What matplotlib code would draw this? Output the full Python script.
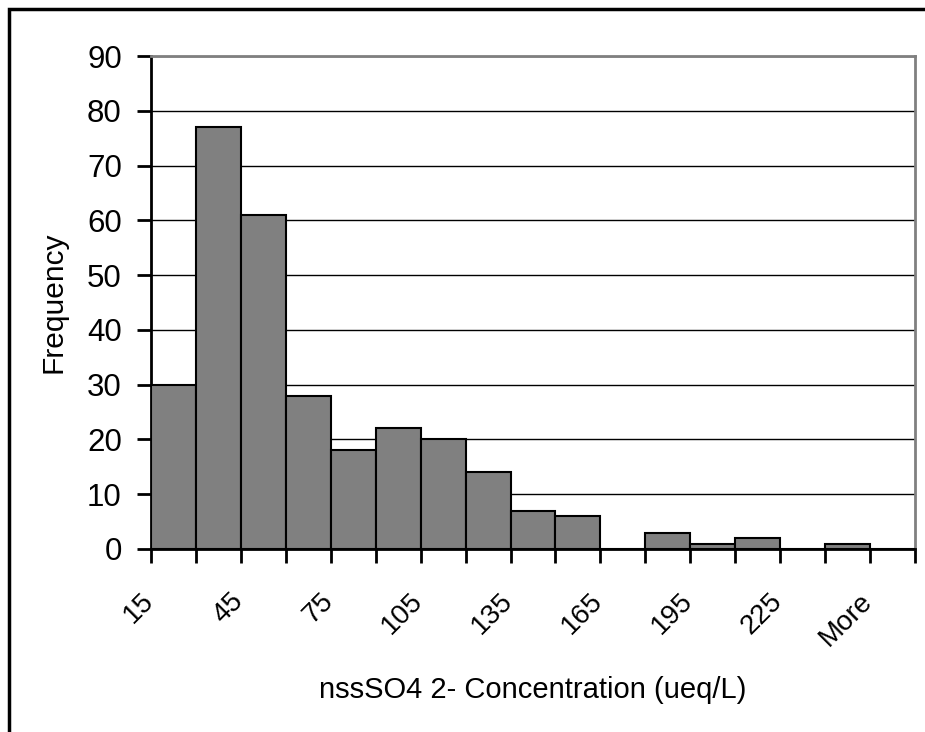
import matplotlib
matplotlib.use("Agg")
import matplotlib.pyplot as plt
import matplotlib.transforms as mtransforms
from matplotlib.patches import Rectangle

# Histogram bins (upper edge of each bin) and counts
bins = ['15', '30', '45', '60', '75', '90', '105', '120', '135', '150',
        '165', '180', '195', '210', '225', '240', 'More']
counts = [30, 77, 61, 28, 18, 22, 20, 14, 7, 6, 0, 3, 1, 2, 0, 1, 0]
y_ticks = [0, 10, 20, 30, 40, 50, 60, 70, 80, 90]

plt.rcParams['font.family'] = ['Liberation Sans', 'DejaVu Sans']

fig = plt.figure(figsize=(9.25, 7.32), dpi=100)
ax = fig.add_axes([151 / 925, 1 - 549 / 732, (915 - 151) / 925, (549 - 56) / 732])

x = list(range(len(bins)))
ax.bar(x, counts, width=1.0, color='#808080', edgecolor='black', linewidth=1.5, zorder=3)

ax.set_xlim(-0.5, len(bins) - 0.5)
ax.set_ylim(0, 90)
ax.set_yticks(y_ticks)
ax.yaxis.grid(True, color='black', linewidth=1.0, zorder=0)
ax.set_axisbelow(True)

# category labels on every other bin, tick marks at bin boundaries
ax.set_xticks(x[::2])
ax.set_xticklabels(bins[::2], rotation=45, ha='right', va='center',
                   rotation_mode='anchor', fontsize=20)
ax.set_xticks([i - 0.5 for i in range(len(bins) + 1)], minor=True)
ax.tick_params(axis='x', which='major', length=0, pad=35)
ax.tick_params(axis='x', which='minor', length=10, width=2, direction='out')
ax.tick_params(axis='y', length=10, width=2, labelsize=22.5, pad=11)
offset = mtransforms.ScaledTranslation(-0.24, 0, fig.dpi_scale_trans)
for lbl in ax.get_xticklabels():
    lbl.set_transform(lbl.get_transform() + offset)

for side in ('top', 'right'):
    ax.spines[side].set_color('#808080')
    ax.spines[side].set_linewidth(2)
for side in ('left', 'bottom'):
    ax.spines[side].set_color('black')
    ax.spines[side].set_linewidth(2)

ax.set_ylabel('Frequency', fontsize=21.5)
ax.yaxis.set_label_coords((68 - 151) / 764, 0.5)
ax.set_xlabel('nssSO4 2- Concentration (ueq/L)', fontsize=21)
ax.xaxis.set_label_coords(0.5, (549 - 676) / 493)

# chart border
fig.patches.append(Rectangle((9 / 925, -0.1), 1.0, 1.1 - 9 / 732,
                             transform=fig.transFigure, fill=False,
                             edgecolor='black', linewidth=2.5))

fig.savefig('out.png', dpi=100)
